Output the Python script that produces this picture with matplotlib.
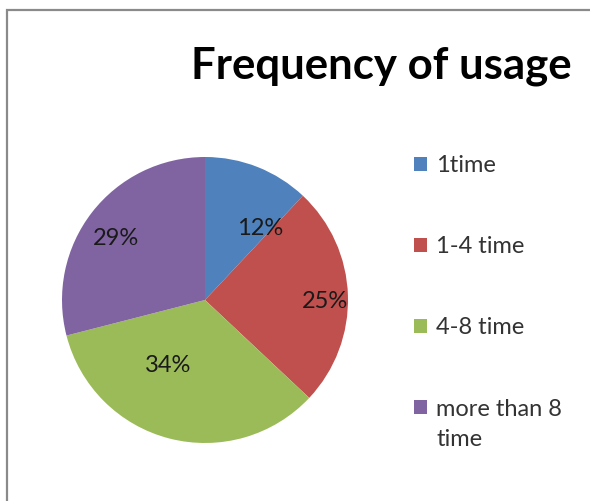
import matplotlib
matplotlib.use("Agg")
import matplotlib.pyplot as plt
from matplotlib.patches import Rectangle, Patch

categories = ["1time", "1-4 time", "4-8 time", "more than 8\ntime"]
values = [12, 25, 34, 29]
colors = ["#4F81BD", "#C0504D", "#9BBB59", "#8064A2"]
title = "Frequency of usage"

# label placement (radius units, Excel "best fit" style)
label_pos = [(0.385, 0.50), (0.84, -0.01), (-0.26, -0.46), (-0.62, 0.43)]

plt.rcParams['font.family'] = ['Lato', 'DejaVu Sans']

W, H = 590, 501
fig = plt.figure(figsize=(W / 100, H / 100), dpi=100)
fig.patch.set_facecolor("white")

# outer chart border (cut off at right/bottom)
fig.patches.append(Rectangle((7 / W, -0.05), 1.1, 1 - 10 / H + 0.05,
                             transform=fig.transFigure, fill=False,
                             edgecolor="#8a8a8a", linewidth=1.6))

cx, cy, r = 205, 300, 143
ax = fig.add_axes([(cx - r) / W, (H - cy - r) / H, 2 * r / W, 2 * r / H])
wedges, texts, autotexts = ax.pie(values, colors=colors, startangle=90,
                                  counterclock=False, radius=1,
                                  autopct=lambda p: f"{p:.0f}%",
                                  textprops=dict(fontsize=17, color="#1a1a1a"))
for t, (x, y) in zip(autotexts, label_pos):
    t.set_position((x, y))
ax.set_xlim(-1, 1)
ax.set_ylim(-1, 1)
ax.set_aspect("equal")
ax.axis("off")

fig.text(381 / W, 1 - 66 / H, title, fontsize=31.5, fontweight="bold",
         ha="center", va="center", color="black")

# legend: first line of each label next to its swatch, wrapped lines below
first_lines = [c.split("\n")[0] for c in categories]
handles = [Patch(facecolor=c, edgecolor="none") for c in colors]
leg = fig.legend(handles, first_lines, loc="upper left",
                 bbox_to_anchor=(414 / W, 1 - 155 / H), frameon=False,
                 fontsize=17, labelspacing=2.55, handlelength=0.55,
                 handleheight=0.55, handletextpad=0.4, borderpad=0,
                 borderaxespad=0)
for t in leg.get_texts():
    t.set_color("#333333")

fig.canvas.draw()
for cat, t in zip(categories, leg.get_texts()):
    extra = cat.split("\n")[1:]
    if extra:
        bb = t.get_window_extent()
        for i, line in enumerate(extra, start=1):
            fig.text(bb.x0 / W, (bb.y0 + bb.y1) / 2 / H - 30 * i / H, line,
                     fontsize=17, color="#333333", ha="left", va="center")

fig.savefig("out.png", dpi=100)
